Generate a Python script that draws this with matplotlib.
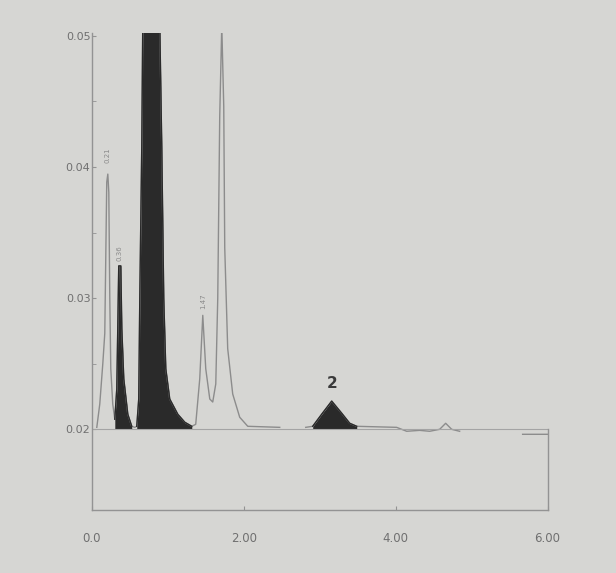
import numpy as np
import matplotlib.pyplot as plt

# trace (time in min, signal); None = gap in the faint baseline
time = [0.066, 0.105, 0.145, 0.171, 0.184, 0.197, 0.211, 0.224, 0.237, 0.250,
        0.276, 0.303, 0.329, 0.342, 0.355, 0.382, 0.395, 0.421, 0.474, 0.526,
        0.566, 0.592, 0.618, 0.632, 0.658, 0.671, 0.895, 0.921, 0.947, 0.974,
        1.026, 1.132, 1.224, 1.316, 1.368, 1.421, 1.461, 1.500, 1.553, 1.592,
        1.632, 1.658, 1.684, 1.711, 1.737, 1.750, 1.789, 1.855, 1.947, 2.053,
        2.474, 2.60, 2.816, 2.908, 3.026, 3.158, 3.289, 3.395, 3.487, 4.013,
        4.145, 4.316, 4.447, 4.579, 4.658, 4.737, 4.842, 5.2, 5.671, 6.0]
signal = [0.02015, 0.02192, 0.0250, 0.02731, 0.03308, 0.03885, 0.03946, 0.03808, 0.0300, 0.02462,
          0.02192, 0.02077, 0.02308, 0.02769, 0.03246, 0.03246, 0.02769, 0.02385, 0.02115, 0.02023,
          0.02015, 0.02023, 0.02231, 0.0300, 0.04154, 0.0508, 0.0508, 0.04154, 0.0300, 0.02462,
          0.02231, 0.02115, 0.02054, 0.02023, 0.02038, 0.02385, 0.02869, 0.02462, 0.02231, 0.02208,
          0.02346, 0.0300, 0.04385, 0.0508, 0.04462, 0.03385, 0.02615, 0.02269, 0.02092, 0.02023,
          0.02015, None, 0.02015, 0.02023, 0.02115, 0.02215, 0.02123, 0.02046, 0.02023, 0.02015,
          0.01985, 0.01992, 0.01985, 0.02, 0.02046, 0.02, 0.01985, None, 0.01962, 0.01962]

# shaded peaks (start, end)
filled = [(0.303, 0.526), (0.592, 1.316), (2.908, 3.487)]

yticks = [0.02, 0.03, 0.04, 0.05]
ytick_labels = ['0.02', '0.03', '0.04', '0.05']
xticks = [0.0, 2.0, 4.0, 6.0]
xtick_labels = ['0.0', '2.00', '4.00', '6.00']

t = np.array(time, dtype=float)
s = np.array([np.nan if v is None else v for v in signal], dtype=float)

bg = '#d6d6d3'
fig = plt.figure(figsize=(6.16, 5.73), dpi=100, facecolor=bg)
ax = fig.add_axes([0.149, 0.110, 0.740, 0.832])
ax.set_facecolor('none')

ax.plot(t, s, color='#8c8c8c', lw=1.0)
for a, b in filled:
    m = (t >= a) & (t <= b)
    ax.fill_between(t[m], 0.02, s[m], color='#2a2a2a', lw=0)
    ax.plot(t[m], s[m], color='#2a2a2a', lw=1.0)

ax.axhline(0.02, color='#a4a4a4', lw=0.8)

ax.set_xlim(0, 6.0)
ax.set_ylim(0.01385, 0.0502)

ax.spines['top'].set_visible(False)
for side in ['left', 'bottom', 'right']:
    ax.spines[side].set_color('#939393')
    ax.spines[side].set_linewidth(1.0)
ax.spines['right'].set_bounds(0.01385, 0.02)

ax.set_yticks(yticks)
ax.set_yticklabels(ytick_labels)
ax.set_yticks([0.025, 0.035, 0.045], minor=True)
ax.set_xticks(xticks)
ax.set_xticklabels(xtick_labels)
ax.tick_params(axis='y', which='both', direction='in', length=3, color='#939393',
               labelsize=8, labelcolor='#707070', pad=1)
ax.tick_params(axis='x', direction='in', length=3, color='#939393',
               labelsize=8.5, labelcolor='#707070', pad=16)

# peak labels
ax.text(3.158, 0.0229, '2', ha='center', va='bottom', fontsize=11,
        fontweight='bold', color='#3a3a3a')
ax.text(0.211, 0.0403, '0.21', ha='center', va='bottom', fontsize=5,
        rotation=90, color='#8a8a8a')
ax.text(0.368, 0.0328, '0.36', ha='center', va='bottom', fontsize=5,
        rotation=90, color='#8a8a8a')
ax.text(1.461, 0.0292, '1.47', ha='center', va='bottom', fontsize=5,
        rotation=90, color='#8a8a8a')

fig.savefig('out.png', dpi=100, facecolor=bg)
